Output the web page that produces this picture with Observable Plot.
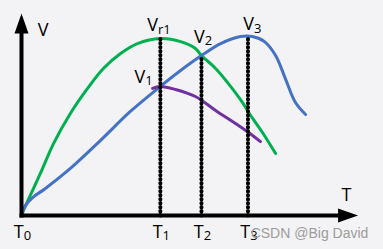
<!DOCTYPE html>
<html>
<head>
<meta charset="utf-8">
<script src="https://cdn.jsdelivr.net/npm/d3@7"></script>
<script src="https://cdn.jsdelivr.net/npm/@observablehq/plot@0.6"></script>
<style>
  html, body { margin: 0; padding: 0; background: #f3f3f5; }
  #chart { width: 383px; height: 249px; }
</style>
</head>
<body>
<div id="chart"></div>
<script>
// ---- data (time units on x, V units on y) ----
const greenX = [0, 0.6, 5.6, 9.5, 14.5, 19.6, 24.3, 29.4, 34.4, 41.2, 47.2, 51.6, 53.4, 57.6, 61.4, 65.6, 67.4, 71.5, 75.4];
const greenY = [0, 2.5, 20.8, 35.6, 50.5, 62.9, 72.8, 80.2, 85.1, 87.6, 86.1, 82.7, 79.2, 72.8, 65.3, 55.9, 51.0, 41.1, 30.7];

const blueX = [0, 1.2, 3.3, 7.1, 14.5, 23.4, 32.3, 41.2, 47.2, 53.4, 59.1, 65.0, 68.5, 72.1, 75.4, 78.3, 81.3, 84.3];
const blueY = [0, 5.0, 8.9, 13.4, 23.3, 37.1, 51.5, 63.9, 71.8, 79.2, 85.1, 88.6, 88.6, 86.1, 79.2, 67.8, 55.9, 50.0];

const purpleX = [38.9, 41.2, 45.7, 51.6, 57.6, 63.5, 67.4, 70.9];
const purpleY = [62.9, 63.9, 62.4, 58.9, 52.0, 45.5, 41.1, 36.6];

const tLabels = ["T_0", "T_1", "T_2", "T_3"];
const tValues = [0, 41.2, 53.4, 67.2];
const tTops = [null, 87.6, 79.2, 88.6];

const vLabels = ["V_r1", "V_1", "V_2", "V_3"];
const vLabelX = [40.8, 36.2, 53.9, 68.5];
const vLabelY = [91.1, 65.8, 85.6, 91.6];

const axisLabels = ["V", "T"];
const axisLabelX = [6.4, 96.4];
const axisLabelY = [89.1, 7.4];

const watermark = ["CSDN @Big David"];
const watermarkX = [68.0];
const watermarkY = [-10.9];

const axisEnds = {x: 94.7, y: 92};
const arrowHeadPos = [{x: 0, y: 95.0, rotate: 0}, {x: 96.9, y: 0, rotate: 90}];

// ---- build tables ----
const toPts = (xs, ys) => xs.map((x, i) => ({x, y: ys[i]}));
const green = toPts(greenX, greenY);
const blue = toPts(blueX, blueY);
const purple = toPts(purpleX, purpleY);
const dotted = tValues.map((t, i) => ({x: t, top: tTops[i]})).filter(d => d.top != null);
const tText = tLabels.map((s, i) => ({s, x: tValues[i], y: -10.9}));
const vText = vLabels.map((s, i) => ({s, x: vLabelX[i], y: vLabelY[i]}));
const aText = axisLabels.map((s, i) => ({s, x: axisLabelX[i], y: axisLabelY[i]}));
const wText = watermark.map((s, i) => ({s, x: watermarkX[i], y: watermarkY[i]}));
const axes = [
  {x1: 0, y1: 0, x2: 0, y2: axisEnds.y},
  {x1: 0, y1: 0, x2: axisEnds.x, y2: 0}
];

const arrowHead = {
  draw(context) {
    context.moveTo(0, -10);
    context.lineTo(7, 10);
    context.lineTo(-7, 10);
    context.closePath();
  }
};

const font = "'Open Sans', 'Noto Sans', sans-serif";

const plot = Plot.plot({
  width: 383,
  height: 249,
  margin: 0,
  x: {domain: [0, 100], range: [21, 358], axis: null},
  y: {domain: [0, 100], range: [215, 13], axis: null},
  style: {background: "#f3f3f5", fontFamily: font, overflow: "visible"},
  marks: [
    Plot.line(green, {x: "x", y: "y", stroke: "#00b050", strokeWidth: 3, curve: "catmull-rom"}),
    Plot.line(blue, {x: "x", y: "y", stroke: "#4472c4", strokeWidth: 3, curve: "catmull-rom"}),
    Plot.line(purple, {x: "x", y: "y", stroke: "#7030a0", strokeWidth: 3, curve: "catmull-rom"}),
    Plot.link(dotted, {x1: "x", x2: "x", y1: 0, y2: "top", stroke: "black", strokeWidth: 4, strokeLinecap: "round", strokeDasharray: "0.5,3.5"}),
    Plot.link(axes, {x1: "x1", y1: "y1", x2: "x2", y2: "y2", stroke: "black", strokeWidth: 4, strokeLinecap: "square"}),
    Plot.dot(arrowHeadPos, {x: "x", y: "y", rotate: "rotate", symbol: arrowHead, fill: "black", stroke: "none"}),
    Plot.text(aText, {x: "x", y: "y", text: "s", fontSize: 18, textAnchor: "middle", lineAnchor: "bottom", fill: "black"}),
    Plot.text(vText, {x: "x", y: "y", text: "s", fontSize: 18, textAnchor: "middle", lineAnchor: "bottom", fill: "black"}),
    Plot.text(tText, {x: "x", y: "y", text: "s", fontSize: 18, textAnchor: "middle", lineAnchor: "bottom", dx: 1, fill: "black"}),
    Plot.text(wText, {x: "x", y: "y", text: "s", fontSize: 14, textAnchor: "start", lineAnchor: "bottom", fill: "#9c9c9c", fontFamily: "'Liberation Sans', Arial, sans-serif"})
  ]
});

// turn "X_sub" labels into main text + subscript
d3.select(plot).selectAll("text").each(function () {
  const t = this.textContent;
  if (t.includes("_")) {
    const [main, sub] = t.split("_");
    const sel = d3.select(this);
    sel.text(main);
    sel.append("tspan").attr("dy", "0.2em").attr("font-size", 13).text(sub);
  }
});

document.getElementById("chart").appendChild(plot);
</script>
</body>
</html>
